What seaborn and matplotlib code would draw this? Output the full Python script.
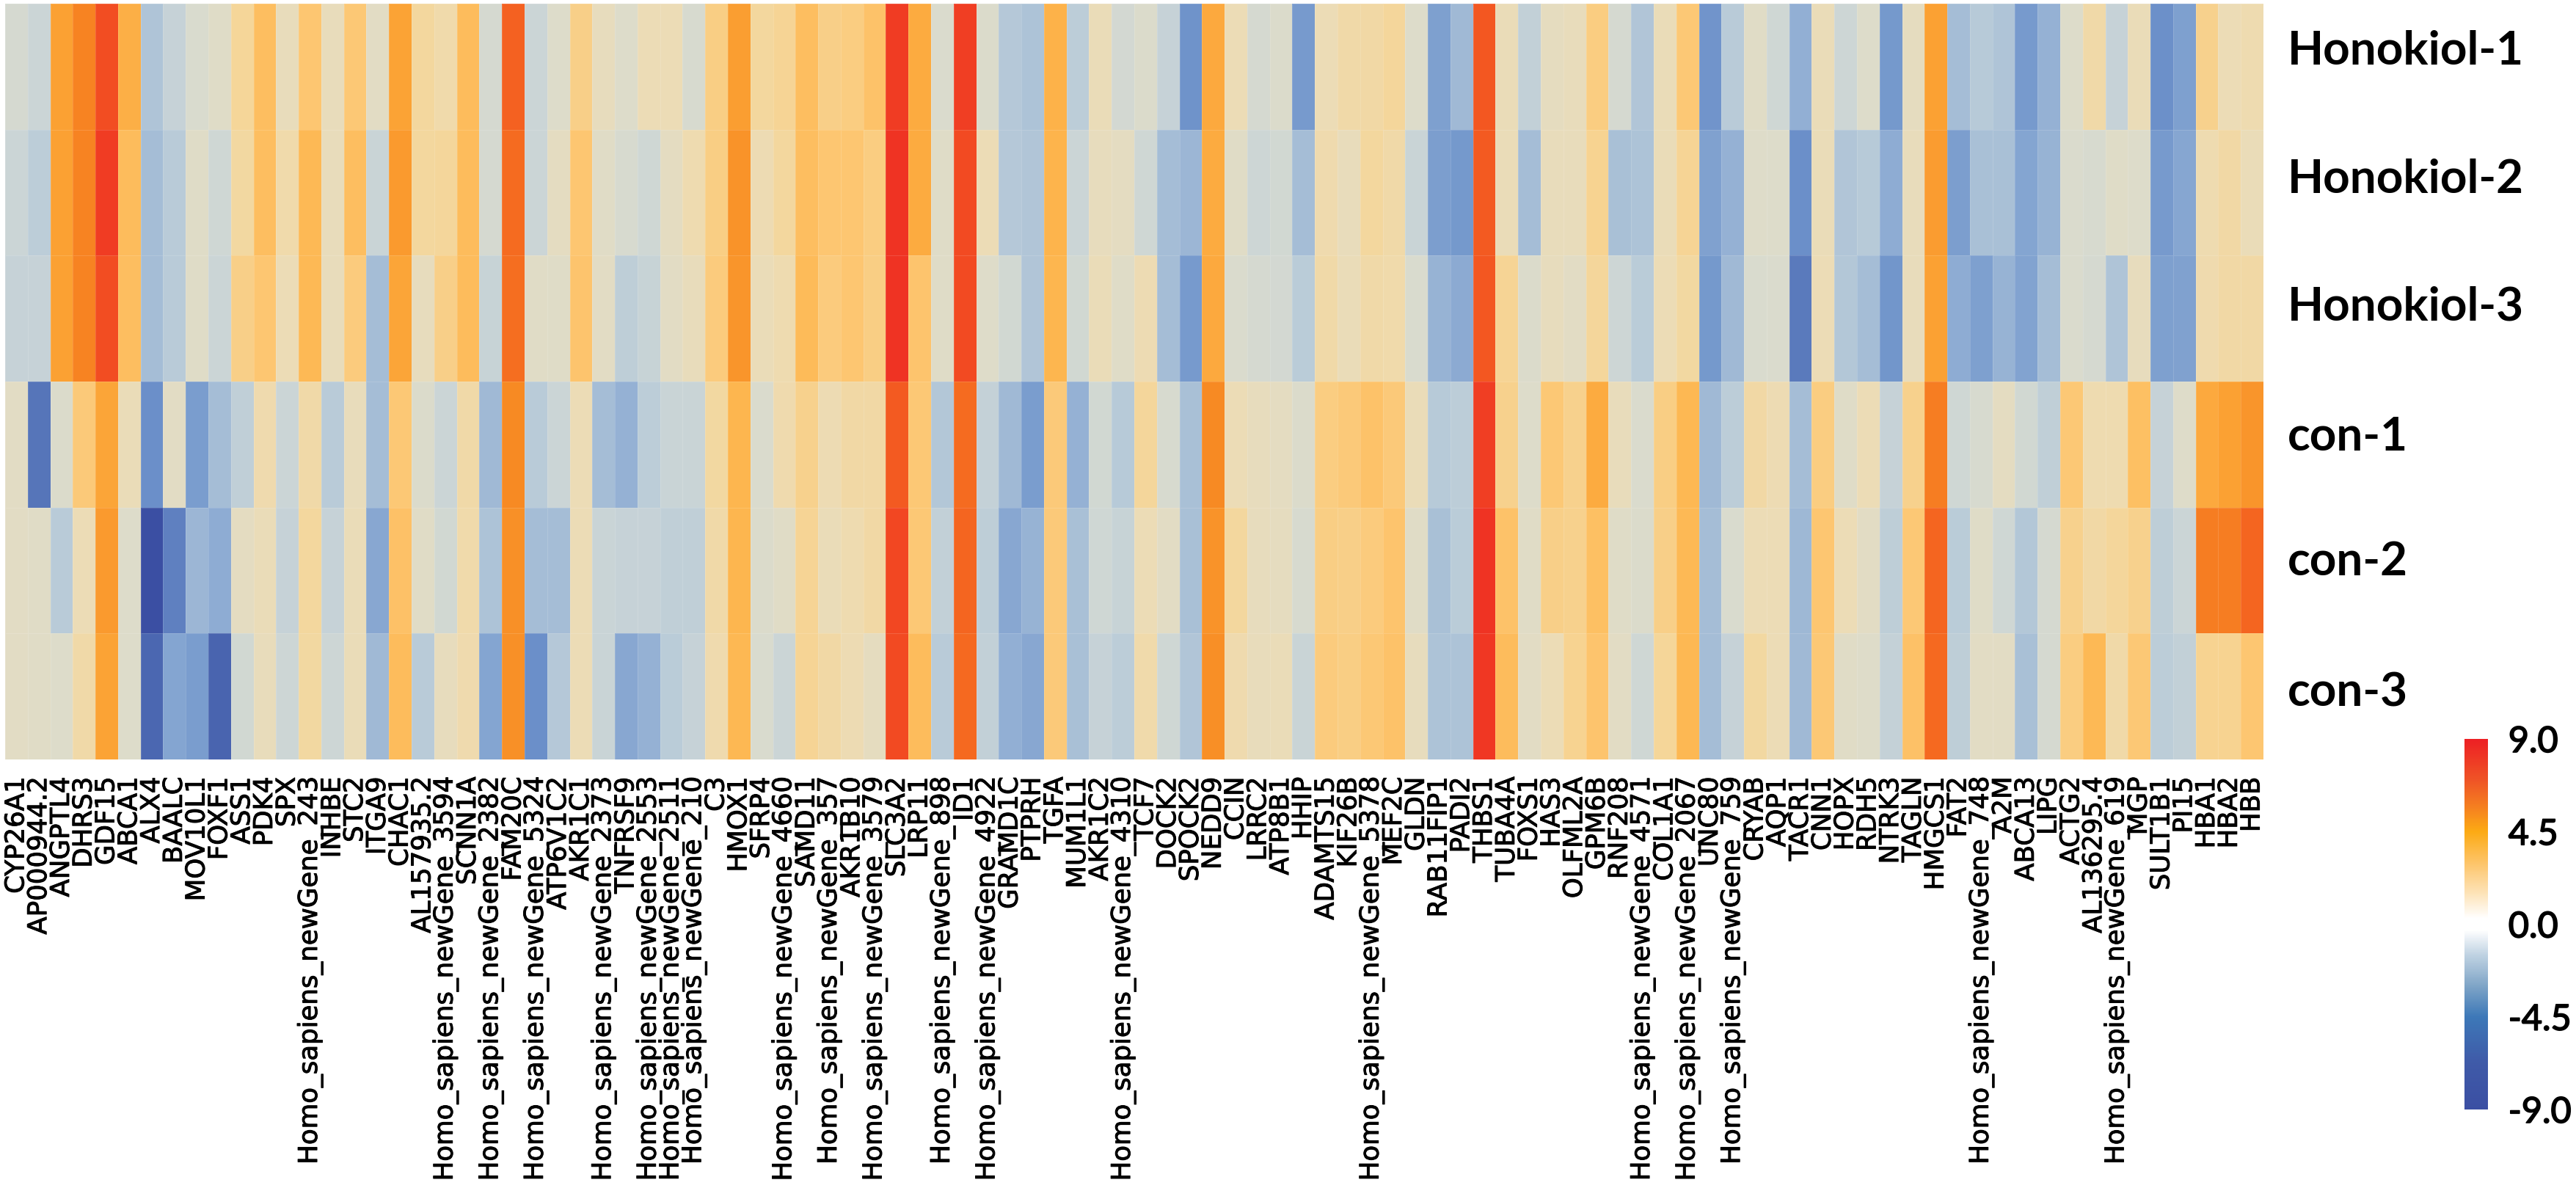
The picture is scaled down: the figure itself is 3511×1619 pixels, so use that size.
import numpy as np
import pandas as pd
import matplotlib
matplotlib.use("Agg")
import matplotlib.pyplot as plt
import matplotlib.patheffects as pe
from matplotlib.colors import LinearSegmentedColormap, Normalize
from matplotlib.cm import ScalarMappable
import seaborn as sns

NG = "Homo_sapiens_newGene_"
genes = ["CYP26A1","AP000944.2","ANGPTL4","DHRS3","GDF15","ABCA1","ALX4","BAALC","MOV10L1","FOXF1",
 "ASS1","PDK4","SPX",NG+"243","INHBE","STC2","ITGA9","CHAC1","AL157935.2",NG+"3594",
 "SCNN1A",NG+"2382","FAM20C",NG+"5324","ATP6V1C2","AKR1C1",NG+"2373","TNFRSF9",NG+"2553",NG+"2511",
 NG+"210","C3","HMOX1","SFRP4",NG+"4660","SAMD11",NG+"357","AKR1B10",NG+"3579","SLC3A2",
 "LRP11",NG+"898","ID1",NG+"4922","GRAMD1C","PTPRH","TGFA","MUM1L1","AKR1C2",NG+"4310",
 "TCF7","DOCK2","SPOCK2","NEDD9","CCIN","LRRC2","ATP8B1","HHIP","ADAMTS15","KIF26B",
 NG+"5378","MEF2C","GLDN","RAB11FIP1","PADI2","THBS1","TUBA4A","FOXS1","HAS3","OLFML2A",
 "GPM6B","RNF208",NG+"4571","COL1A1",NG+"2067","UNC80",NG+"759","CRYAB","AQP1","TACR1",
 "CNN1","HOPX","RDH5","NTRK3","TAGLN","HMGCS1","FAT2",NG+"748","A2M","ABCA13",
 "LIPG","ACTG2","AL136295.4",NG+"619","MGP","SULT1B1","PI15","HBA1","HBA2","HBB"]
samples = ["Honokiol-1","Honokiol-2","Honokiol-3","con-1","con-2","con-3"]

honokiol_1 = [-0.5,-1,5,6.2,7.9,4.3,-2.5,-1.3,-0.3,0.2,
 2,3.5,0.8,3,0.8,2.9,0.4,4.9,1.8,1.4,
 3.6,-0.5,7.3,-1,0,2.4,0.7,0,1,1,
 -0.4,2.5,5.1,1.8,2.1,3.5,2.4,2.6,3.2,8.6,
 4.5,-0.2,8.5,-0.1,-2.2,-2.6,4.2,-1.8,0.9,-0.6,
 -0.1,-1.3,-5.7,4.6,1,-0.5,-0.1,-5.2,1,1.5,
 1.6,1.9,0,-4.8,-3.2,7.6,0.9,-1.5,0.6,0.8,
 2.6,-0.5,-2.4,0.9,2.9,-5.6,-2,0.3,-0.8,-3.8,
 0.9,-0.9,0,-5.3,0.6,5,-3,-2.1,-2.5,-5.2,
 -3.7,0,1.5,-1.3,0.9,-5.9,-4.8,2.3,1,1.2]
honokiol_2 = [-1,-1.8,5,6.2,8.6,3.6,-3,-2,0.2,-0.8,
 1.7,3.5,1.4,3.8,0.8,3.5,-1.1,5.3,1.8,1.9,
 3.6,-0.5,7,-1,0.5,3,0.3,-0.4,-0.8,0.5,
 1.2,2.5,5.6,1.1,1.8,3.5,3,3,2.6,9,
 4.5,0.2,8,1,-2.2,-2.4,4.1,-1,0.7,0.5,
 -0.8,-3,-3.4,4.5,0.3,-0.9,-0.7,-3,1.3,0.8,
 1.8,1.5,-1.1,-4.9,-5.3,7.5,0.9,-3,0.8,0.8,
 2.2,-2.8,-2.6,0.9,2.1,-4.7,-3.7,0.1,0,-6,
 0.9,-2.4,-2.1,-4,0.8,5.2,-4.9,-2.8,-2.8,-4.5,
 -3.6,-0.2,-0.4,0.2,0,-5.2,-4.4,1.2,1.6,0.9]
honokiol_3 = [-1.3,-1.3,5,6.2,7.9,3.5,-3,-2,0.2,-1,
 2.4,3,1,3.8,0.8,2.7,-3,4.8,0.7,2.4,
 3.6,-1.2,6.9,0.3,0.2,3.1,0.4,-1.7,-1.2,0.4,
 0.8,2.7,5.5,0.9,1.2,3.7,2.7,3,2.5,9,
 3.1,0.2,8,0.1,-0.7,-2.4,4,-0.7,0.9,0.2,
 1.1,-3,-5.2,4.6,-0.2,-0.5,-0.6,-1.9,1.5,0.9,
 1.5,1.4,-0.3,-3.6,-4.1,7.6,2.1,-0.1,0.7,0.4,
 1.9,-0.9,-1.9,1,1.7,-5.3,-3.2,-0.3,-0.2,-6.8,
 1,-2.3,-3,-5.5,0.8,5,-4,-4.8,-3.6,-4.6,
 -3,-0.2,-0.5,-2.5,0.7,-4.8,-4.7,1.3,1.6,1.6]
con_1 = [0.4,-7,-0.1,2.8,4.8,0.9,-6,0.4,-5,-3,
 -1.6,1.3,-1,1.5,-2,0.8,-3,2.9,-0.1,-1,
 1.5,-3.2,6,-2,-1,1,-3,-3.7,-1.8,-1.1,
 -1.1,1.7,4,-0.2,1.3,2.3,1.1,1.6,1.6,7.5,
 2.9,-2.3,7,-1.4,-3.2,-5,2.8,-3.7,-0.7,-2.1,
 1.9,-0.4,-2.8,6,1,0.7,0.5,-0.1,2.6,2.8,
 3.2,2.8,0.9,-2.1,-1.8,8.5,2.3,0,2.9,2.3,
 4.5,0.8,-0.2,2.5,3.9,-3.2,-1.8,1.6,1.1,-3,
 2.6,0.2,1,-1.3,2.3,6.4,-0.8,-0.4,0.5,-0.7,
 -1.6,2.9,1.2,1.2,3.4,-1.3,0.1,4.6,5,5.5]
con_2 = [0.4,0.3,-2,1,5.3,0,-9,-6.6,-3.4,-4,
 0.5,0.9,-1.3,1.8,-1.3,0.9,-4.3,3.3,0.3,-0.7,
 1.4,-2.6,5.7,-3,-3,1,-1.1,-1.3,-1.3,-1.6,
 -1.6,1.5,4,-0.1,0.3,2.1,0.9,1.2,1.6,8.1,
 2.9,-1.5,7.2,-1.7,-4.3,-3.6,2.8,-2.8,-0.8,-1.2,
 1,0.4,-2.8,5.6,1.8,0.7,0.6,-0.4,2.5,2.4,
 2.7,3.1,0.3,-2.8,-1.9,9,3.2,0.3,2.4,2.3,
 3.4,0.2,-0.1,2.4,3.8,-3,-0.3,1,1,-3.3,
 3,1,0.4,-1.7,2.9,7.2,-1.9,0.2,-0.8,-2.3,
 -0.5,2.3,1.6,1.9,2.3,-1.7,-1,6.4,6.4,7.2]
con_3 = [0.4,0.3,0,1.5,4.9,0,-7.6,-4.5,-5,-7.8,
 -0.7,0.8,-0.9,1.7,-0.9,0.9,-3.2,3.6,-2,0.7,
 1.3,-4.5,5.7,-6,-2.2,1,-1.1,-4.3,-3.7,-1.9,
 -1.3,1.3,3.9,-0.3,-1,2.1,1.6,1.1,0.6,8,
 3.6,-2,7.1,-1.5,-3.8,-4.3,2.8,-2.8,-1.3,-1.8,
 1.4,-0.8,-2.4,5.8,1.3,0.8,0.9,-1.1,2.7,2.5,
 2.9,3.2,0.7,-2.6,-2.6,8.8,3.6,0.4,1,2.2,
 3.1,0.4,-0.8,2,3.9,-3,-1.3,1.7,1,-3.2,
 2.9,0.3,0.1,-1.4,3.3,7.1,-1.7,0.4,0.4,-2.8,
 -0.5,2.6,3.8,1.5,2.9,-1.8,-1.5,2.2,2.2,3]
cbar_ticks = [-9, -4.5, 0, 4.5, 9]

W, H, DPI = 3511, 1619, 100
vmax = 9.0

def stops(pairs):
    return [((v + vmax) / (2 * vmax), c) for v, c in pairs]

cell_cmap = LinearSegmentedColormap.from_list("cells", stops([
    (-9, "#3b4fa3"), (-7.5, "#4c69b2"), (-6, "#6b8fc9"), (-5, "#7a9dce"), (-4, "#8eacd3"),
    (-3, "#a5bdd6"), (-2, "#b9cbd8"), (-1, "#cbd5d6"), (-0.3, "#d9dbce"), (0.3, "#e0dcc6"),
    (1, "#ecdcb6"), (2, "#f5d699"), (3, "#fdc671"), (4, "#fdb64f"), (5, "#fba133"),
    (6, "#f78a23"), (7, "#f56c20"), (8, "#f24a22"), (9, "#ef3323")]), N=512)
bar_cmap = LinearSegmentedColormap.from_list("bar", stops([
    (-9, "#3b4fa3"), (-6.75, "#3f5aa8"), (-4.5, "#3d78b8"), (-3, "#7fa5c7"), (-1.5, "#bfd2e2"),
    (-0.3, "#ffffff"), (0.3, "#ffffff"), (1.5, "#fde3b8"), (3, "#fdc468"), (4.5, "#fcaa14"),
    (5.7, "#f58020"), (7, "#ef5426"), (9, "#ed2024")]), N=512)
norm = Normalize(-vmax, vmax)

data = pd.DataFrame([honokiol_1, honokiol_2, honokiol_3, con_1, con_2, con_3],
                    index=samples, columns=genes)

sns.set_theme(style="white")
plt.rcParams["font.family"] = ["DejaVu Sans"]
fig = plt.figure(figsize=(W / DPI, H / DPI), dpi=DPI)

x0, x1, y0, y1 = 7, 3085, 5, 1035
ax = fig.add_axes([x0 / W, 1 - y1 / H, (x1 - x0) / W, (y1 - y0) / H])
sns.heatmap(data, ax=ax, cmap=cell_cmap, norm=norm, cbar=False,
            linewidths=0.6, linecolor=(1, 1, 1, 0.14),
            xticklabels=True, yticklabels=True)

ax.set_xticks(np.arange(len(genes)) + 0.5)
ax.set_xticklabels(genes, rotation=90, ha="center", va="top", fontsize=25.6, color="black")
for lab in ax.get_xticklabels():
    lab.set_path_effects([pe.withStroke(linewidth=0.7, foreground="black")])
ax.tick_params(axis="x", length=0, pad=17, bottom=True)

# Row names sit above the middle of their rows in the reference.
label_rows = [0.378, 1.395, 2.407, 3.442, 4.43, 5.47]
ax.yaxis.tick_right()
ax.set_yticks(label_rows)
ax.set_yticklabels(samples, rotation=0, ha="left", va="center", fontsize=46,
                   fontweight="bold", family=["Lato", "DejaVu Sans"], color="black")
ax.tick_params(axis="y", length=0, pad=24, right=True, left=False)
ax.set_xlabel("")
ax.set_ylabel("")

cax = fig.add_axes([3359 / W, 1 - 1512 / H, 32 / W, 505 / H])
cb = fig.colorbar(ScalarMappable(norm=norm, cmap=bar_cmap), cax=cax, ticks=cbar_ticks)
cb.outline.set_visible(False)
cb.ax.set_yticklabels([f"{t:.1f}" for t in cbar_ticks], fontsize=35,
                      family=["Lato", "DejaVu Sans"], color="black")
for lab in cb.ax.get_yticklabels():
    lab.set_path_effects([pe.withStroke(linewidth=1.2, foreground="black")])
cb.ax.tick_params(length=0, pad=20)

fig.savefig("out.png", dpi=DPI, facecolor="white")
